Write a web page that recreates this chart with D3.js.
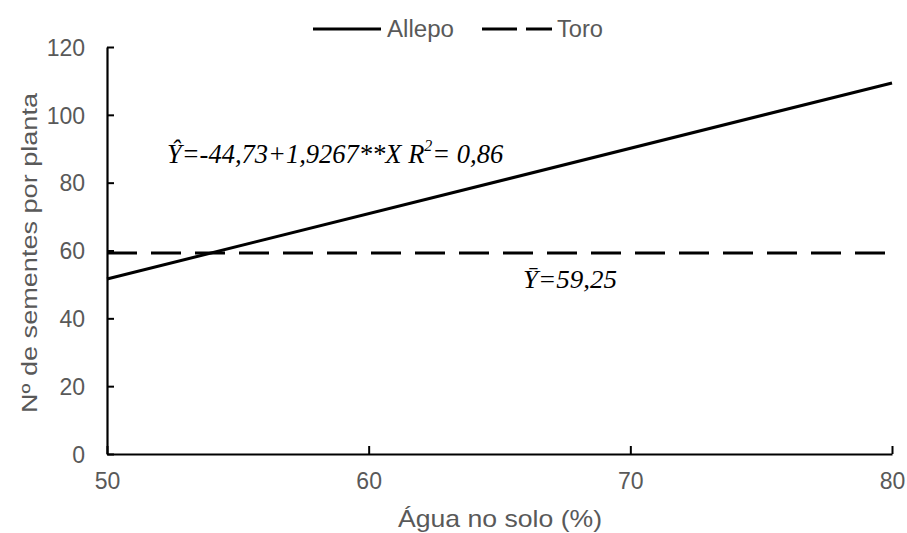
<!DOCTYPE html>
<html><head><meta charset="utf-8">
<script src="https://cdn.jsdelivr.net/npm/d3@7"></script>
<style>body{margin:0;background:#fff}svg{display:block}</style>
</head><body>
<svg id="c" width="907" height="533"></svg>
<script>
const xTicks = [50, 60, 70, 80];
const yTicks = [0, 20, 40, 60, 80, 100, 120];
const waterPct = [50, 80];
const allepo = [51.6, 109.4];
const toro = [59.25, 59.25];
const seriesNames = ["Allepo", "Toro"];

const svg = d3.select("#c");
const x = d3.scaleLinear().domain([50, 80]).range([107, 892]);
const y = d3.scaleLinear().domain([0, 120]).range([454, 47]);
const grey = "#595959";
const sans = "Liberation Sans, Arial, sans-serif";

// axes
const xAxis = svg.append("g").attr("transform", "translate(0,454)")
  .call(d3.axisBottom(x).tickValues(xTicks).tickSizeInner(-8).tickSizeOuter(0).tickPadding(19));
const yAxis = svg.append("g").attr("transform", "translate(107,0)")
  .call(d3.axisLeft(y).tickValues(yTicks).tickSizeInner(-7).tickSizeOuter(0).tickPadding(22));
[xAxis, yAxis].forEach(a => {
  a.select(".domain").attr("stroke", "#000").attr("stroke-width", 2.2);
  a.selectAll(".tick line").attr("stroke", "#000").attr("stroke-width", 2);
  a.selectAll(".tick text").attr("fill", grey).style("font-family", sans).style("font-size", "23px");
});
yAxis.selectAll(".tick text").attr("dy", "0.36em");
xAxis.selectAll(".tick text").attr("dy", "0.71em");

const line = d3.line().x(d => x(d[0])).y(d => y(d[1]));
svg.append("path").datum(waterPct.map((v, i) => [v, toro[i]]))
  .attr("d", line).attr("fill", "none").attr("stroke", "#000").attr("stroke-width", 3)
  .attr("stroke-dasharray", "30,14");
svg.append("path").datum(waterPct.map((v, i) => [v, allepo[i]]))
  .attr("d", line).attr("fill", "none").attr("stroke", "#000").attr("stroke-width", 3);

// axis titles
svg.append("text").attr("x", 500).attr("y", 527).attr("text-anchor", "middle")
  .attr("fill", grey).style("font-family", sans).style("font-size", "24px")
  .attr("textLength", 204).attr("lengthAdjust", "spacingAndGlyphs")
  .text("Água no solo (%)");
svg.append("text").attr("transform", "translate(37,253) rotate(-90)").attr("text-anchor", "middle")
  .attr("fill", grey).style("font-family", sans).style("font-size", "22px")
  .attr("textLength", 320).attr("lengthAdjust", "spacingAndGlyphs")
  .text("Nº de sementes por planta");

// legend
const lg = svg.append("g");
lg.append("line").attr("x1", 313).attr("x2", 381).attr("y1", 29).attr("y2", 29).attr("stroke", "#000").attr("stroke-width", 3);
lg.append("text").attr("x", 387).attr("y", 37).attr("fill", grey)
  .style("font-family", sans).style("font-size", "23px")
  .attr("textLength", 67).attr("lengthAdjust", "spacingAndGlyphs").text(seriesNames[0]);
lg.append("line").attr("x1", 482).attr("x2", 552).attr("y1", 29).attr("y2", 29).attr("stroke", "#000").attr("stroke-width", 3)
  .attr("stroke-dasharray", "35,9");
lg.append("text").attr("x", 557).attr("y", 37).attr("fill", grey)
  .style("font-family", sans).style("font-size", "23px")
  .attr("textLength", 46).attr("lengthAdjust", "spacingAndGlyphs").text(seriesNames[1]);

// equations
const ser = "Liberation Serif, Times New Roman, serif";
const eq = svg.append("text").attr("x", 167).attr("y", 163)
  .style("font-family", ser).style("font-style", "italic").style("font-size", "26.5px").attr("fill", "#000");
eq.append("tspan").text("Ŷ=-44,73+1,9267**X R");
eq.append("tspan").attr("dy", -12).style("font-size", "16px").text("2");
eq.append("tspan").attr("dy", 12).text("= 0,86");

svg.append("text").attr("x", 523).attr("y", 288)
  .style("font-family", ser).style("font-style", "italic").style("font-size", "26px").attr("fill", "#000")
  .attr("textLength", 94).attr("lengthAdjust", "spacingAndGlyphs")
  .text("Ȳ=59,25");
</script>
</body></html>
